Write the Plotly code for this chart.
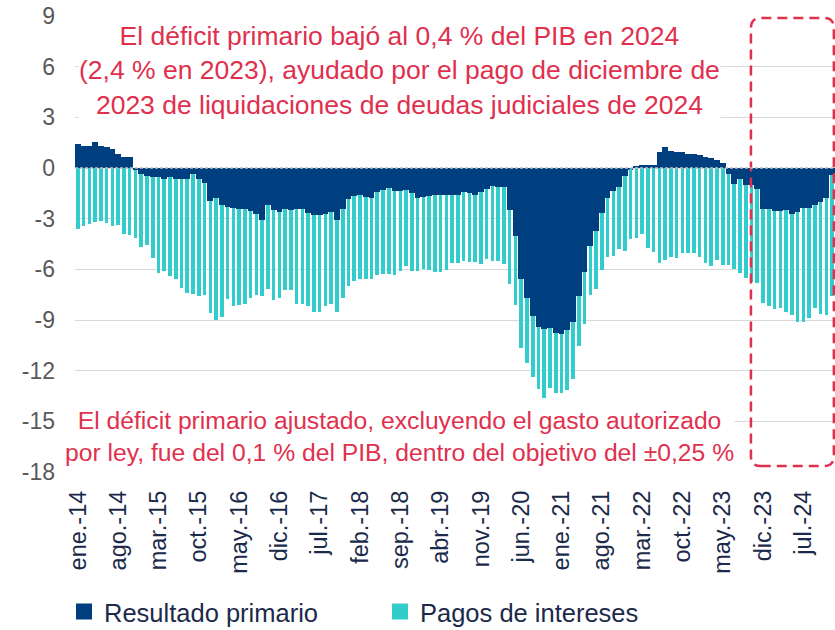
import plotly.graph_objects as go

# Monthly categories, Jan-2014 to Dec-2024
MESES = ["ene.", "feb.", "mar.", "abr.", "may.", "jun.",
         "jul.", "ago.", "sep.", "oct.", "nov.", "dic."]
meses = [f"{m}-{str(a)[2:]}" for a in range(2014, 2025) for m in MESES]

# Resultado primario, % del PIB (acumulado 12 meses)
resultado_primario = [
    1.40, 1.33, 1.33, 1.52, 1.30, 1.22, 1.10, 0.85, 0.68, 0.64,
    -0.10, -0.33, -0.48, -0.53, -0.53, -0.64, -0.53, -0.64, -0.68, -0.64,
    -0.35, -0.64, -0.88, -1.95, -1.76, -2.20, -2.29, -2.39, -2.40, -2.45,
    -2.54, -2.74, -3.08, -2.20, -2.49, -2.58, -2.45, -2.49, -2.45, -2.45,
    -2.68, -2.80, -2.80, -2.70, -2.60, -3.10, -2.45, -1.85, -1.66, -1.60,
    -1.70, -1.80, -1.42, -1.33, -1.20, -1.36, -1.36, -1.30, -1.50, -1.75,
    -1.72, -1.68, -1.62, -1.62, -1.62, -1.60, -1.62, -1.45, -1.47, -1.58,
    -1.45, -1.23, -1.05, -1.12, -1.15, -2.46, -4.00, -6.60, -7.67, -8.76,
    -9.40, -9.55, -9.50, -9.75, -9.84, -9.62, -9.10, -7.58, -6.15, -4.62,
    -3.74, -2.65, -1.77, -1.37, -1.10, -0.48, -0.08, 0.10, 0.15, 0.15,
    0.20, 0.95, 1.25, 1.00, 0.95, 0.95, 0.85, 0.80, 0.75, 0.65,
    0.60, 0.50, 0.30, -0.38, -0.94, -0.68, -0.98, -0.98, -1.23, -2.40,
    -2.42, -2.55, -2.55, -2.51, -2.75, -2.61, -2.36, -2.36, -2.22, -2.02,
    -1.77, -0.40,
]

# Pagos de intereses, % del PIB (acumulado 12 meses)
pagos_intereses = [
    -3.59, -3.43, -3.29, -3.20, -3.16, -3.27, -3.43, -3.37, -3.89, -3.98,
    -4.06, -4.36, -4.10, -4.77, -5.70, -5.46, -5.87, -5.91, -6.40, -6.74,
    -7.13, -6.93, -6.62, -6.61, -7.25, -6.60, -5.44, -5.78, -5.70, -5.58,
    -5.13, -4.79, -4.49, -4.94, -5.32, -5.09, -4.77, -4.75, -5.58, -5.58,
    -5.52, -5.70, -5.70, -5.47, -5.45, -5.40, -5.22, -5.13, -5.04, -4.98,
    -4.85, -4.80, -4.90, -4.97, -5.05, -4.99, -4.74, -4.48, -4.60, -4.33,
    -4.28, -4.35, -4.53, -4.53, -4.43, -4.02, -3.98, -4.05, -4.10, -3.99,
    -4.25, -4.17, -4.45, -4.38, -4.55, -4.42, -4.10, -4.03, -3.85, -3.64,
    -3.70, -4.05, -3.55, -3.55, -3.46, -3.50, -3.37, -2.97, -3.11, -2.88,
    -3.41, -3.40, -3.50, -3.83, -3.70, -4.46, -4.15, -4.15, -3.93, -4.72,
    -4.98, -5.61, -5.47, -5.26, -5.32, -5.06, -5.02, -5.02, -5.26, -5.61,
    -5.81, -5.47, -5.77, -5.37, -5.06, -5.56, -5.52, -5.78, -5.60, -5.62,
    -5.76, -5.78, -5.72, -6.02, -5.98, -6.51, -6.76, -6.51, -6.05, -6.65,
    -6.94, -7.20,
]

# Axis labels: one every seven months; y ticks every 3 points
PASO_ETIQUETAS = 7
y_ticks = list(range(-18, 10, 3))
y_ticktext = [str(v) for v in y_ticks]  # plain hyphen for negatives

NAVY = "#003F7F"
CYAN = "#33CCCC"
RED = "#E0304E"
TEXT_NAVY = "#1B2A4A"
GRID = "#D9D9D9"
FONT = "Liberation Sans, Arial, sans-serif"

idx = list(range(len(meses)))
# interest bars hang from the primary deficit (or from zero when in surplus)
base_intereses = [min(p, 0.0) for p in resultado_primario]

fig = go.Figure()

fig.add_trace(go.Bar(
    x=idx, y=resultado_primario, width=1.0,
    marker=dict(color=NAVY, line=dict(width=0)),
    showlegend=False, hoverinfo="skip",
))
fig.add_trace(go.Bar(
    x=idx, y=pagos_intereses, base=base_intereses, width=0.62,
    marker=dict(color=CYAN, line=dict(width=0)),
    showlegend=False, hoverinfo="skip",
))

# legend entries with larger square swatches
fig.add_trace(go.Scatter(
    x=[None], y=[None], mode="markers", name="Resultado primario",
    marker=dict(symbol="square", size=16, color=NAVY),
))
fig.add_trace(go.Scatter(
    x=[None], y=[None], mode="markers", name="Pagos de intereses",
    marker=dict(symbol="square", size=16, color=CYAN),
))

x_range = [-0.5, len(meses) - 0.5]
y_range = [-18, 9]

tickvals = idx[::PASO_ETIQUETAS]
ticktext = meses[::PASO_ETIQUETAS]


def rounded_box(x0, x1, y0, y1, rx, ry):
    return (f"M {x0 + rx},{y0} L {x1 - rx},{y0} Q {x1},{y0} {x1},{y0 + ry} "
            f"L {x1},{y1 - ry} Q {x1},{y1} {x1 - rx},{y1} "
            f"L {x0 + rx},{y1} Q {x0},{y1} {x0},{y1 - ry} "
            f"L {x0},{y0 + ry} Q {x0},{y0} {x0 + rx},{y0} Z")


# highlight box around the latest period (from oct.-23 to the end)
box_start = meses.index("oct.-23")
fig.add_shape(
    type="path", xref="x", yref="y", layer="above",
    path=rounded_box(box_start - 0.1, x_range[1] - 0.2, -17.65, 8.88, 1.7, 0.6),
    line=dict(color=RED, width=2.5, dash="10px,6px"),
)

# dashed zero line
fig.add_shape(
    type="line", xref="paper", yref="y", x0=0, x1=1, y0=0, y1=0,
    layer="above", line=dict(color="#BFBFBF", width=1.5, dash="3px,2px"),
)

fig.add_annotation(
    xref="paper", yref="paper", x=0.4276, y=0.8794,
    xanchor="center", yanchor="middle", showarrow=False,
    text=("El déficit primario bajó al 0,4 % del PIB en 2024<br>"
          "(2,4 % en 2023), ayudado por el pago de diciembre de<br>"
          "2023 de liquidaciones de deudas judiciales de 2024"),
    font=dict(family=FONT, size=26.5, color=RED), bgcolor="white", borderpad=0,
)
fig.add_annotation(
    xref="paper", yref="paper", x=0.4276, y=0.0789,
    xanchor="center", yanchor="middle", showarrow=False,
    text=("El déficit primario ajustado, excluyendo el gasto autorizado<br>"
          "por ley, fue del 0,1 % del PIB, dentro del objetivo del ±0,25 %"),
    font=dict(family=FONT, size=24.7, color=RED), bgcolor="white", borderpad=0,
)

fig.update_layout(
    width=835, height=630,
    margin=dict(l=75, r=0, t=16, b=158),
    paper_bgcolor="white", plot_bgcolor="white",
    barmode="overlay", bargap=0,
    font=dict(family=FONT, color=TEXT_NAVY),
    xaxis=dict(
        range=x_range, tickmode="array", tickvals=tickvals, ticktext=ticktext,
        tickangle=-90, tickfont=dict(size=23.5, color=TEXT_NAVY),
        showgrid=False, zeroline=False, showline=False, ticks="",
        ticklabelstandoff=13,
    ),
    xaxis2=dict(
        overlaying="x", anchor="free", position=18 / 27, side="bottom",
        range=x_range, tickmode="array",
        tickvals=[v - 0.5 for v in tickvals],
        ticks="inside", ticklen=7, tickwidth=1, tickcolor="#BFBFBF",
        showticklabels=False, showgrid=False, zeroline=False, showline=False,
        layer="above traces",
    ),
    yaxis=dict(
        range=y_range, tickmode="array", tickvals=y_ticks, ticktext=y_ticktext,
        tickfont=dict(size=23, color="#595959"),
        showgrid=True, gridcolor=GRID, gridwidth=1,
        zeroline=False, showline=False, ticks="",
        ticklabelstandoff=19,
    ),
    legend=dict(
        orientation="h", xref="container", yref="container",
        x=64 / 835, y=(630 - 612) / 630, xanchor="left", yanchor="middle",
        font=dict(size=25.5, color=TEXT_NAVY), entrywidth=271,
        itemsizing="trace", bgcolor="rgba(0,0,0,0)",
    ),
)

fig.write_html("out.html")
